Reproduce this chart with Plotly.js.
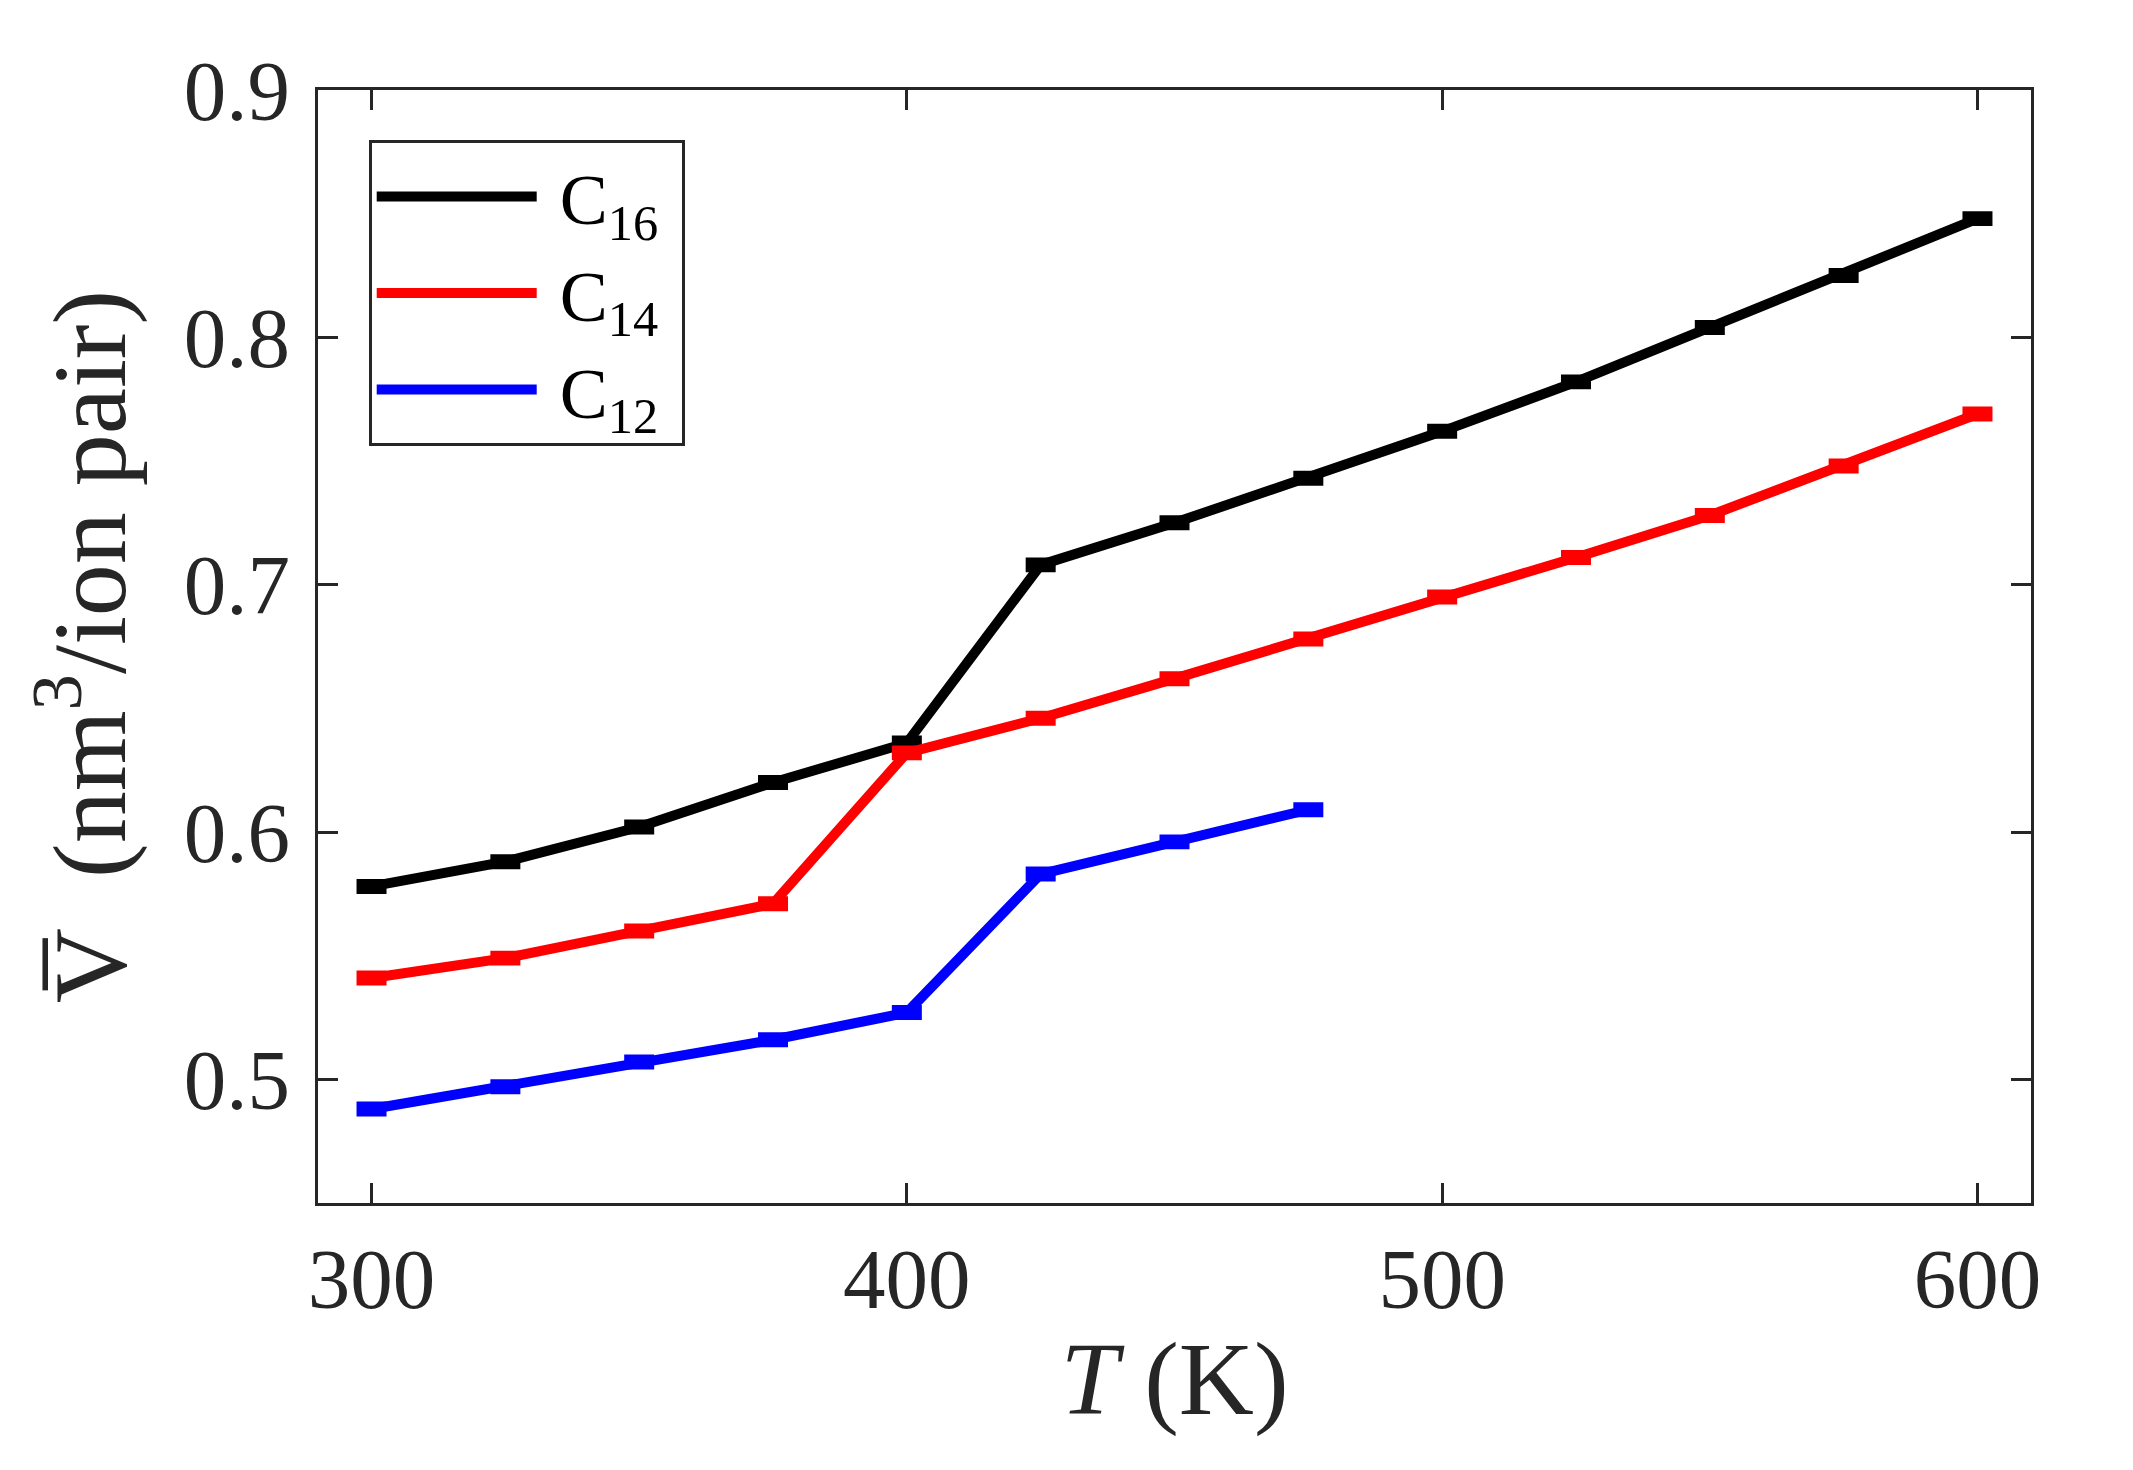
<!DOCTYPE html>
<html>
<head>
<meta charset="utf-8">
<script src="https://cdn.plot.ly/plotly-3.0.1.min.js"></script>
<style>html,body{margin:0;padding:0;background:#fff;}#chart{width:2133px;height:1470px;}</style>
</head>
<body>
<div id="chart"></div>
<script>
const temperatures = [300, 325, 350, 375, 400, 425, 450, 475, 500, 525, 550, 575, 600];
const tempsC12 = [300, 325, 350, 375, 400, 425, 450, 475];
const volumeC16 = [0.578, 0.588, 0.602, 0.620, 0.636, 0.708, 0.725, 0.743, 0.762, 0.782, 0.804, 0.825, 0.848];
const volumeC14 = [0.541, 0.549, 0.560, 0.571, 0.632, 0.646, 0.662, 0.678, 0.695, 0.711, 0.728, 0.748, 0.769];
const volumeC12 = [0.488, 0.497, 0.507, 0.516, 0.527, 0.583, 0.596, 0.609];
const errorC16 = [0.001, 0.001, 0.001, 0.001, 0.001, 0.001, 0.001, 0.001, 0.001, 0.001, 0.001, 0.001, 0.001];
const errorC14 = [0.001, 0.001, 0.001, 0.001, 0.001, 0.001, 0.001, 0.001, 0.001, 0.001, 0.001, 0.001, 0.001];
const errorC12 = [0.001, 0.001, 0.001, 0.001, 0.001, 0.001, 0.001, 0.001];
const seriesNames = ['C<sub>16</sub>', 'C<sub>14</sub>', 'C<sub>12</sub>'];
const xTicks = [300, 400, 500, 600];
const yTicks = [0.5, 0.6, 0.7, 0.8, 0.9];

const serif = 'Liberation Serif, DejaVu Serif, serif';
const NB = '\u00a0';

function series(x, y, err, name, color) {
  return {
    x: x, y: y, name: NB + name + NB, type: 'scatter', mode: 'lines',
    line: {color: color, width: 10},
    error_y: {type: 'data', array: err, visible: true, color: color, thickness: 10, width: 15}
  };
}

const data = [
  series(temperatures, volumeC16, errorC16, seriesNames[0], '#000000'),
  series(temperatures, volumeC14, errorC14, seriesNames[1], '#ff0000'),
  series(tempsC12, volumeC12, errorC12, seriesNames[2], '#0000ff')
];

const axisCommon = {
  showgrid: false, zeroline: false, showline: true, mirror: 'ticks',
  linecolor: '#262626', linewidth: 3, ticks: 'inside', ticklen: 20, tickwidth: 3,
  tickcolor: '#262626',
  tickfont: {family: serif, size: 85, color: '#262626'}
};

const layout = {
  width: 2133, height: 1470,
  margin: {l: 318, r: 102, t: 90, b: 267},
  paper_bgcolor: '#ffffff', plot_bgcolor: '#ffffff',
  showlegend: true,
  xaxis: Object.assign({}, axisCommon, {
    range: [290, 610], tickvals: xTicks, ticktext: xTicks.map(String),
    ticklabelstandoff: 0,
    title: {text: '<i>T</i> (K)', font: {family: serif, size: 104, color: '#262626'}, standoff: 17}
  }),
  yaxis: Object.assign({}, axisCommon, {
    range: [0.45, 0.9], tickvals: yTicks, ticktext: yTicks.map(v => v.toFixed(1)),
    ticklabelstandoff: 8,
    title: {text: 'V\u0305  (nm<sup>3</sup>/ion pair)' + NB + '\u2009', font: {family: serif, size: 104, color: '#262626'}, standoff: 24}
  }),
  legend: {
    x: 0.0296, y: 0.955, xanchor: 'left', yanchor: 'top',
    bgcolor: '#ffffff', bordercolor: '#262626', borderwidth: 3,
    font: {family: serif, size: 72, color: '#000000'},
    itemwidth: 160, tracegroupgap: 0
  }
};

Plotly.newPlot('chart', data, layout, {displayModeBar: false, staticPlot: true});
</script>
</body>
</html>
